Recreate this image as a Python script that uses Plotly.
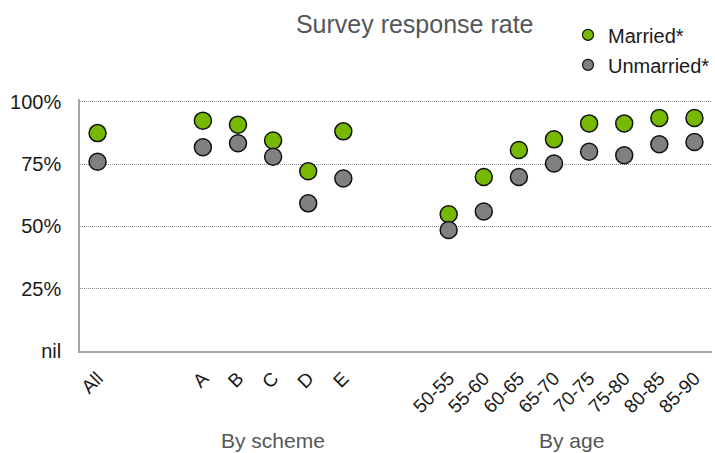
import plotly.graph_objects as go

# ---- data ----
group_names = ["", "By scheme", "By age"]
group_categories = [
    ["All"],
    ["A", "B", "C", "D", "E"],
    ["50-55", "55-60", "60-65", "65-70", "70-75", "75-80", "80-85", "85-90"],
]
married = [0.875, 0.925, 0.909, 0.845, 0.722, 0.882,
           0.549, 0.699, 0.807, 0.850, 0.914, 0.914, 0.936, 0.936]
unmarried = [0.760, 0.818, 0.834, 0.780, 0.593, 0.693,
             0.486, 0.560, 0.699, 0.753, 0.800, 0.786, 0.830, 0.839]
y_tickvals = [0, 0.25, 0.5, 0.75, 1.0]
y_ticktext = ["nil", "25%", "50%", "75%", "100%"]

# ---- layout of categories along x (groups separated by 2 empty slots) ----
GAP = 2
xpos, labels, group_centers = [], [], []
cur = 0
for cats in group_categories:
    start = cur
    for c in cats:
        xpos.append(cur)
        labels.append(c)
        cur += 1
    group_centers.append((start + cur - 1) / 2)
    cur += GAP
xmax = xpos[-1]

FONT = "Liberation Sans, Arial, sans-serif"
GREEN = "#76b900"
GREY = "#808080"
TEXT = "#1a1a1a"
SOFT = "#53575a"

fig = go.Figure()
fig.add_trace(go.Scatter(
    x=xpos, y=married, mode="markers", name="Married*", showlegend=False,
    marker=dict(size=17, color=GREEN, line=dict(color="#111111", width=1.5)),
    cliponaxis=False,
))
fig.add_trace(go.Scatter(
    x=xpos, y=unmarried, mode="markers", name="Unmarried*", showlegend=False,
    marker=dict(size=17, color=GREY, line=dict(color="#111111", width=1.5)),
    cliponaxis=False,
))
# legend entries (smaller symbols, as in the reference)
for nm, col, grp in [("Married*", GREEN, "m"), ("Unmarried*", GREY, "u")]:
    fig.add_trace(go.Scatter(
        x=[None], y=[None], mode="markers", name=nm, legendgroup=grp,
        marker=dict(size=11, color=col, line=dict(color="#111111", width=1.2)),
    ))

for name, cx in zip(group_names, group_centers):
    if name:
        fig.add_annotation(x=cx, y=-0.357, xref="x", yref="paper", text=name,
                           showarrow=False, yanchor="middle",
                           font=dict(family=FONT, size=21, color=SOFT))

fig.update_layout(
    width=715, height=453,
    margin=dict(l=80, r=3, t=99, b=102),
    paper_bgcolor="white", plot_bgcolor="white",
    title=dict(text="Survey response rate", x=0.58, xref="container",
               xanchor="center", y=0.947, yanchor="middle",
               font=dict(family=FONT, size=25, color=SOFT)),
    font=dict(family=FONT, size=20, color=TEXT),
    showlegend=True,
    legend=dict(x=0.782, y=0.966, xref="paper", yref="container",
                xanchor="left", yanchor="top",
                font=dict(family=FONT, size=20, color=TEXT),
                tracegroupgap=1, traceorder="grouped",
                bgcolor="rgba(0,0,0,0)"),
    xaxis=dict(range=[-0.5, xmax + 0.5], tickvals=xpos, ticktext=labels,
               tickangle=-45, showgrid=False, zeroline=False,
               showline=True, linecolor="#a6a6a6", linewidth=1.5,
               ticks="", ticklabelstandoff=7, ticklabelshift=0,
               tickfont=dict(family=FONT, size=19, color=TEXT)),
    yaxis=dict(range=[0, 1.012], tickvals=y_tickvals, ticktext=y_ticktext,
               showgrid=True, gridcolor="#8c8c8c", griddash="1px,1px", gridwidth=1,
               zeroline=False, showline=True, linecolor="#a6a6a6", linewidth=1.5,
               ticks="", ticklen=0, ticklabelstandoff=13,
               tickfont=dict(family=FONT, size=20, color=TEXT)),
)

fig.write_html("out.html", config={"displayModeBar": False},
               post_script="document.body.style.margin='0';document.body.style.overflow='hidden';")
